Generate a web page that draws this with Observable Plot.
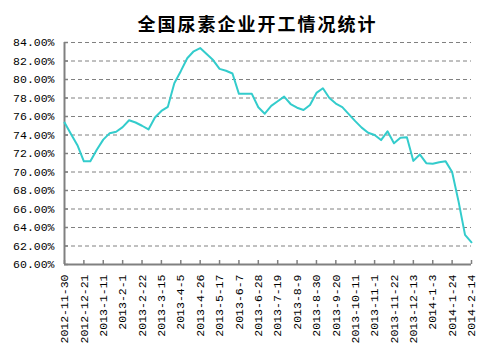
<!DOCTYPE html>
<html>
<head>
<meta charset="utf-8">
<script src="https://cdn.jsdelivr.net/npm/d3@7"></script>
<script src="https://cdn.jsdelivr.net/npm/@observablehq/plot@0.6"></script>
<style>
  html, body { margin: 0; padding: 0; background: #fff; }
  #title {
    width: 503px; height: 36px; box-sizing: border-box;
    padding-top: 12px; padding-left: 12px;
    text-align: center; font-family: "Noto Sans CJK SC", sans-serif;
    font-weight: bold; font-size: 18px; line-height: 22px; letter-spacing: 2px; color: #000;
  }
  #chart svg { display: block; }
</style>
</head>
<body>
<div id="title">全国尿素企业开工情况统计</div>
<div id="chart"></div>
<script>
const tickLabels = ["2012-11-30","2012-12-21","2013-1-11","2013-2-1","2013-2-22","2013-3-15","2013-4-5","2013-4-26","2013-5-17","2013-6-7","2013-6-28","2013-7-19","2013-8-9","2013-8-30","2013-9-20","2013-10-11","2013-11-1","2013-11-22","2013-12-13","2014-1-3","2014-1-24","2014-2-14"];
const rates = [75.35,74.1,72.9,71.15,71.15,72.4,73.5,74.2,74.35,74.85,75.6,75.35,75.0,74.6,75.9,76.6,77.05,79.6,80.9,82.3,83.05,83.4,82.75,82.1,81.15,80.95,80.65,78.45,78.45,78.45,77.0,76.3,77.15,77.65,78.15,77.35,76.95,76.7,77.25,78.55,79.05,78.0,77.4,77.02,76.25,75.5,74.8,74.25,74.0,73.45,74.4,73.1,73.7,73.75,71.2,71.9,70.95,70.9,71.05,71.15,70.0,66.8,63.2,62.4];
const yTicks = [60,62,64,66,68,70,72,74,76,78,80,82,84];

const parse = s => { const [y,m,d] = s.split("-").map(Number); return new Date(Date.UTC(y, m-1, d)); };
const tickDates = tickLabels.map(parse);
const start = tickDates[0];
const data = rates.map((v, i) => ({date: d3.utcDay.offset(start, 7*i), rate: v}));

const W = 503, H = 315, mt = 6, mb = 87, ml = 64, mr = 32;
const pw = W - ml - mr, ph = H - mt - mb;
const font = "'Liberation Mono', 'DejaVu Sans Mono', monospace";
const axisColor = "#808080";

const chart = Plot.plot({
  width: W, height: H, marginTop: mt, marginBottom: mb, marginLeft: ml, marginRight: mr,
  style: {fontFamily: font, fontSize: "11.5px", color: "#000", background: "#fff"},
  x: {type: "utc", domain: [tickDates[0], tickDates[tickDates.length-1]]},
  y: {domain: [60, 84]},
  marks: [
    Plot.ruleY(yTicks.filter(d => d > 60), {y: d => d, stroke: axisColor, strokeWidth: 1, strokeDasharray: "4,3"}),
    Plot.axisY({ticks: yTicks, tickSize: 0, tickPadding: 10, tickFormat: d => d.toFixed(2) + "%", label: null, fontFamily: font, fontSize: 11.5, fill: "#000"}),
    Plot.axisX({ticks: [], label: null}),
    Plot.ruleY(yTicks, {y: d => d, insetRight: pw - 4, stroke: axisColor, strokeWidth: 1.5}),
    Plot.ruleX(tickDates, {x: d => d, insetTop: ph - 4, stroke: axisColor, strokeWidth: 1.5}),
    Plot.ruleX([tickDates[0]], {stroke: axisColor, strokeWidth: 2}),
    Plot.ruleY([60], {stroke: axisColor, strokeWidth: 2}),
    Plot.line(data, {x: "date", y: "rate", stroke: "#33CCCC", strokeWidth: 2}),
    Plot.text(tickDates, {x: d => d, text: (d, i) => tickLabels[i], frameAnchor: "bottom", dy: 10, rotate: -90, textAnchor: "end", lineAnchor: "middle", fontFamily: font, fontSize: 11.5, fill: "#000"})
  ]
});
document.getElementById("chart").appendChild(chart);
</script>
</body>
</html>
